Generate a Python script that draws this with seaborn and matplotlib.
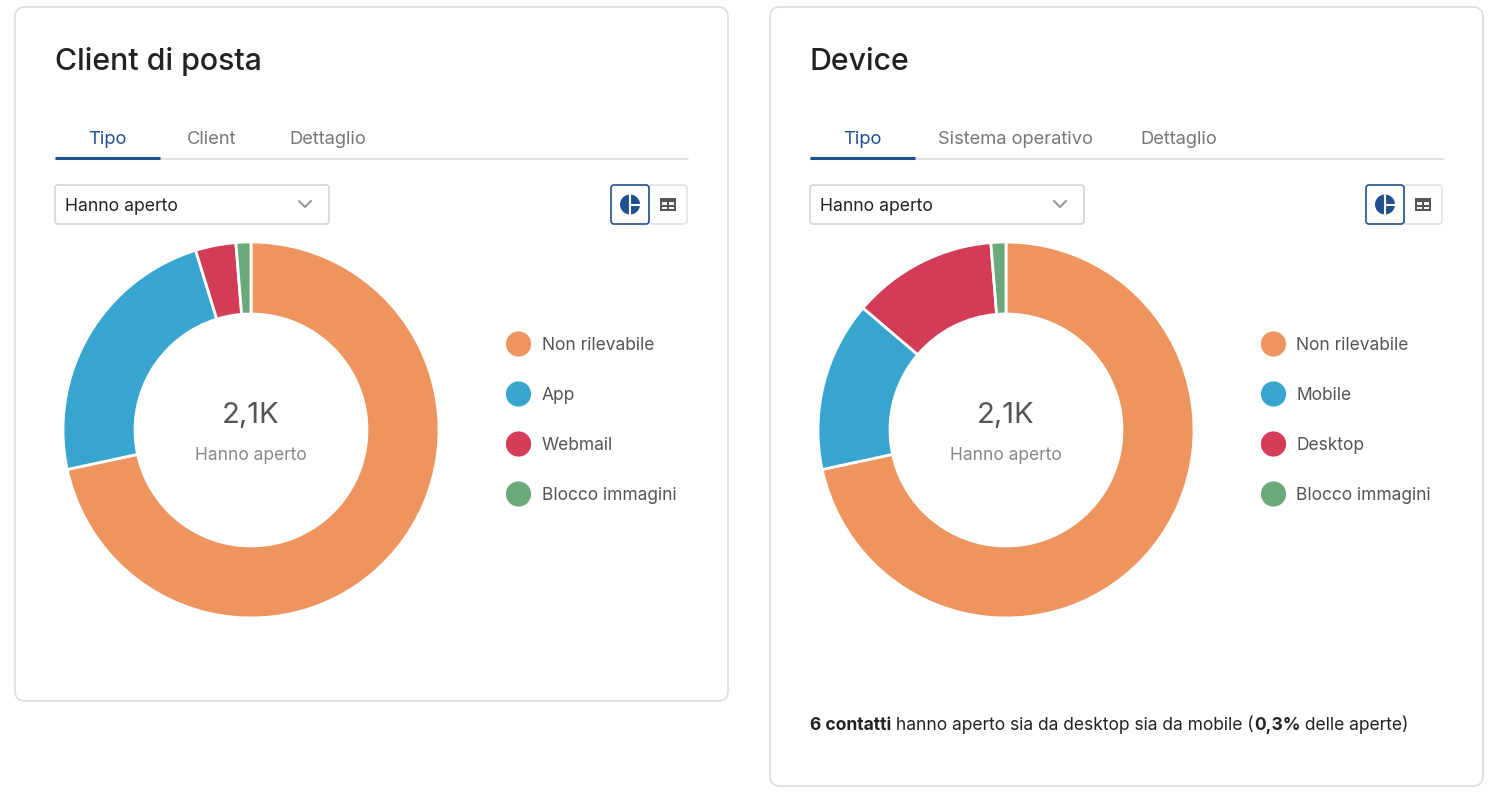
import matplotlib
matplotlib.use("Agg")
import matplotlib.pyplot as plt
from matplotlib.patches import FancyBboxPatch, Rectangle, Circle
import seaborn as sns

# ---------------- data ----------------
client_labels = ["Non rilevabile", "App", "Webmail", "Blocco immagini"]
client_values = [1505, 496, 73, 27]
device_labels = ["Non rilevabile", "Mobile", "Desktop", "Blocco immagini"]
device_values = [1505, 307, 262, 27]
slice_colors = ["#EE955F", "#37A5CF", "#D33C57", "#6AA979"]
center_value = "2,1K"
center_label = "Hanno aperto"
client_tabs = ["Tipo", "Client", "Dettaglio"]
device_tabs = ["Tipo", "Sistema operativo", "Dettaglio"]

W, H = 1490, 798
sns.set_theme(style="white")
plt.rcParams["font.family"] = ["Inter", "DejaVu Sans"]

fig = plt.figure(figsize=(W / 100, H / 100), dpi=100)
fig.patch.set_facecolor("white")
bg = fig.add_axes([0, 0, 1, 1])
bg.set_xlim(0, W)
bg.set_ylim(H, 0)
bg.axis("off")

BLUE = "#21508F"
DARK = "#222222"
GRAY = "#777777"
LINE = "#DDDDDD"


def card(x0, y0, x1, y1):
    bg.add_patch(FancyBboxPatch((x0, y0), x1 - x0, y1 - y0,
                                boxstyle="round,pad=0,rounding_size=10",
                                fc="white", ec=LINE, lw=1.2))


def panel(ox, card_bottom, title, tabs, tab_centers, labels, values):
    card(ox - 40, 7, ox + 673, card_bottom)
    bg.text(ox, 62, title, fontsize=21.8, color=DARK, va="center", ha="left",
            fontweight="medium")
    # tabs
    for i, (t, cx) in enumerate(zip(tabs, tab_centers)):
        bg.text(ox + cx, 140, t, fontsize=13.2, ha="center", va="center",
                color=BLUE if i == 0 else GRAY)
    bg.plot([ox, ox + 633], [159, 159], color=LINE, lw=1.2)
    bg.plot([ox, ox + 105], [158, 158], color=BLUE, lw=2.2, solid_capstyle="butt")
    # dropdown
    bg.add_patch(FancyBboxPatch((ox, 185), 274, 39,
                                boxstyle="round,pad=0,rounding_size=3",
                                fc="white", ec="#CCCCCC", lw=1.0))
    bg.text(ox + 10, 206.5, "Hanno aperto", fontsize=12.7, color=DARK,
            ha="left", va="center")
    bg.plot([ox + 244, ox + 250, ox + 256], [201, 207, 201], color="#999999",
            lw=1.5)
    # view buttons
    bx = ox + 556
    bg.add_patch(FancyBboxPatch((bx + 38, 185), 38, 39,
                                boxstyle="round,pad=0,rounding_size=3",
                                fc="white", ec="#DDDDDD", lw=1.0))
    bg.add_patch(FancyBboxPatch((bx, 185), 38, 39,
                                boxstyle="round,pad=0,rounding_size=3",
                                fc="white", ec=BLUE, lw=1.2))
    cx, cy = bx + 19, 204.5
    bg.add_patch(Circle((cx, cy), 10, fc=BLUE, ec="none"))
    bg.plot([cx, cx], [cy - 10, cy + 10], color="white", lw=1.5)
    bg.plot([cx, cx + 10], [cy, cy], color="white", lw=1.5)
    tx, ty = bx + 57, 204.5
    bg.add_patch(Rectangle((tx - 8, ty - 6.5), 16, 13, fc="#555555", ec="none"))
    for (x0, x1) in ((tx - 6.3, tx - 0.8), (tx + 0.8, tx + 6.3)):
        for (y0, y1) in ((ty - 2.2, ty + 1.0), (ty + 2.4, ty + 5.0)):
            bg.add_patch(Rectangle((x0, y0), x1 - x0, y1 - y0, fc="white",
                                   ec="none"))

    # donut
    pcx, pcy, R = ox + 196, 430, 188
    ax = fig.add_axes([(pcx - R) / W, 1 - (pcy + R) / H, 2 * R / W, 2 * R / H])
    ax.pie(values, colors=slice_colors, startangle=90, counterclock=False,
           radius=1.0, wedgeprops=dict(width=0.383, edgecolor="white",
                                       linewidth=2))
    ax.set_xlim(-1.0, 1.0)
    ax.set_ylim(-1.0, 1.0)
    ax.set_aspect("equal")
    ax.axis("off")
    bg.text(pcx, 416, center_value, fontsize=21, color="#555555",
            ha="center", va="center")
    bg.text(pcx, 456, center_label, fontsize=12.5, color="#888888",
            ha="center", va="center")

    # legend via seaborn
    lx0, ly0 = ox + 451, 319
    lax = fig.add_axes([lx0 / W, 1 - (ly0 + 200) / H, 200 / W, 200 / H])
    idx = list(range(len(labels)))
    sns.scatterplot(x=[0] * len(labels), y=idx, hue=labels,
                    palette=slice_colors, s=330, edgecolor="none",
                    legend=False, ax=lax)
    lax.set_xlim(-0.5, 7.5)
    lax.set_ylim(3.5, -0.5)
    lax.axis("off")
    for i, lab in enumerate(labels):
        lax.text(0.92, i + 0.02, lab, fontsize=12.5, color="#555555",
                 ha="left", va="center")


panel(55, 701, "Client di posta", client_tabs, [52, 157, 273],
      client_labels, client_values)
panel(810, 786, "Device", device_tabs, [52, 205, 369],
      device_labels, device_values)

# bottom note with mixed weights
fig.canvas.draw()
renderer = fig.canvas.get_renderer()
parts = [("6 contatti", "bold"), (" hanno aperto sia da desktop sia da mobile (", "normal"),
         ("0,3%", "bold"), (" delle aperte)", "normal")]
x = 810
for s, w in parts:
    t = bg.text(x, 725, s, fontsize=12.55, color=DARK, fontweight=w,
                ha="left", va="center")
    bb = t.get_window_extent(renderer=renderer)
    x += bb.width

fig.savefig("out.png", dpi=100, facecolor="white")
